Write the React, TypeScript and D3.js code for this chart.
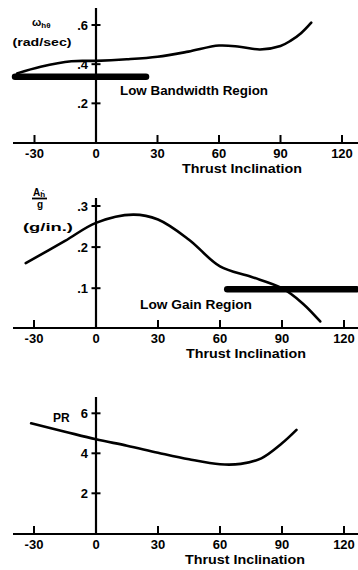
import React from "react";
import * as d3 from "d3";

const xTicks = [-30, 0, 30, 60, 90, 120];

const bwTheta = [-38.5, -27, -12, 0, 15, 30, 45, 60, 70, 80, 90, 95, 100, 105];
const bwValue = [0.353, 0.387, 0.415, 0.417, 0.425, 0.438, 0.464, 0.495, 0.489, 0.475, 0.493, 0.52, 0.558, 0.612];
const bwTicks = [0.2, 0.4, 0.6];
const bwRegion = [-39.5, 24.4];
const bwRegionValue = 0.336;

const gainTheta = [-34, -15, 0, 18, 30, 45, 60, 75, 90, 100, 108.5];
const gainValue = [0.161, 0.215, 0.259, 0.279, 0.267, 0.218, 0.153, 0.128, 0.1, 0.063, 0.019];
const gainTicks = [0.1, 0.2, 0.3];
const gainRegion = [63.5, 126];
const gainRegionValue = 0.0976;

const prTheta = [-31.4, -15, 0, 15, 30, 45, 60, 70, 80, 90, 97];
const prValue = [5.5, 5.08, 4.7, 4.38, 4.03, 3.7, 3.45, 3.47, 3.75, 4.5, 5.17];
const prTicks = [2, 4, 6];

const FONT = "'Liberation Sans', Arial, sans-serif";

type PanelProps = {
  x0: number; x120: number;
  yZero: number; yTopVal: number; yTopPx: number; yMax: number;
  axisY: number; axisTop: number;
  theta: number[]; values: number[];
  ticks: number[]; tickFmt: (v: number) => string;
  region?: number[]; regionValue?: number;
  titleX: number;
  children?: React.ReactNode;
};

function Panel(p: PanelProps) {
  const x = d3.scaleLinear().domain([0, 120]).range([p.x0, p.x120]);
  const y = d3.scaleLinear().domain([0, p.yTopVal]).range([p.yZero, p.yTopPx]);
  const pts = p.theta.map((t, i) => [t, p.values[i]] as [number, number]);
  const line = d3.line<[number, number]>().x(d => x(d[0])).y(d => y(d[1])).curve(d3.curveCatmullRom.alpha(0.5));
  return (
    <g>
      <line x1={13} x2={358} y1={p.axisY} y2={p.axisY} stroke="#000" strokeWidth={2.2} />
      <line x1={x(0)} x2={x(0)} y1={p.axisTop} y2={p.axisY} stroke="#000" strokeWidth={2.2} />
      {xTicks.map(t => (
        <g key={t}>
          <line x1={x(t)} x2={x(t)} y1={p.axisY} y2={p.axisY - 8} stroke="#000" strokeWidth={2} />
          <text x={x(t)} y={p.axisY + 14.5} textAnchor="middle" fontFamily={FONT} fontWeight="bold" fontSize={13}>{t}</text>
        </g>
      ))}
      {p.ticks.map(v => (
        <g key={v}>
          <line x1={x(0) - 4.5} x2={x(0) + 4.5} y1={y(v)} y2={y(v)} stroke="#000" strokeWidth={2} />
          <text x={x(0) - 8} y={y(v)} dy="0.36em" textAnchor="end" fontFamily={FONT} fontWeight="bold" fontSize={13}>{p.tickFmt(v)}</text>
        </g>
      ))}
      <text x={p.titleX} y={p.axisY + 30} textAnchor="middle" fontFamily={FONT} fontWeight="bold" fontSize={13.5} textLength={120} lengthAdjust="spacingAndGlyphs">Thrust Inclination</text>
      {p.region && (
        <line x1={x(p.region[0])} x2={x(p.region[1])} y1={y(p.regionValue!)} y2={y(p.regionValue!)} stroke="#000" strokeWidth={6.5} strokeLinecap="round" />
      )}
      <path d={line(pts) || ""} fill="none" stroke="#000" strokeWidth={2.6} strokeLinecap="round" />
      {p.children}
    </g>
  );
}

export default function App() {
  return (
    <svg width={358} height={570} style={{ position: "absolute", left: 0, top: 0, background: "#fff" }}>
      <rect width={358} height={570} fill="#fff" />
      <Panel x0={96} x120={342} yZero={142.5} yTopVal={0.6} yTopPx={25} yMax={0.6}
        axisY={143} axisTop={8} theta={bwTheta} values={bwValue} ticks={bwTicks}
        tickFmt={v => d3.format(".1f")(v).replace(/^0/, "")} region={bwRegion} regionValue={bwRegionValue} titleX={242}>
        <text x={194} y={95} textAnchor="middle" fontFamily={FONT} fontWeight="bold" fontSize={12} textLength={148} lengthAdjust="spacingAndGlyphs">Low Bandwidth Region</text>
        <text x={32} y={26} fontFamily={FONT} fontWeight="bold" fontSize={11}>ω<tspan fontSize={8} dy={2}>hθ</tspan></text>
        <text x={42} y={46} textAnchor="middle" fontFamily={FONT} fontWeight="bold" fontSize={11} textLength={59} lengthAdjust="spacingAndGlyphs">(rad/sec)</text>
      </Panel>
      <Panel x0={96} x120={344} yZero={329.3} yTopVal={0.3} yTopPx={206} yMax={0.3}
        axisY={328} axisTop={198} theta={gainTheta} values={gainValue} ticks={gainTicks}
        tickFmt={v => d3.format(".1f")(v).replace(/^0/, "")} region={gainRegion} regionValue={gainRegionValue} titleX={246}>
        <text x={196} y={309} textAnchor="middle" fontFamily={FONT} fontWeight="bold" fontSize={12} textLength={112} lengthAdjust="spacingAndGlyphs">Low Gain Region</text>
        <text x={33} y={196} fontFamily={FONT} fontWeight="bold" fontSize={10}>A<tspan fontSize={8} dy={1}>ḣ</tspan></text>
        <line x1={32} x2={47} y1={198.5} y2={198.5} stroke="#000" strokeWidth={1.8} />
        <text x={40} y={208} textAnchor="middle" fontFamily={FONT} fontWeight="bold" fontSize={10}>g</text>
        <text x={48} y={231} textAnchor="middle" fontFamily={FONT} fontWeight="bold" fontSize={11} textLength={50} lengthAdjust="spacingAndGlyphs">(g/in.)</text>
      </Panel>
      <Panel x0={96} x120={344} yZero={533.3} yTopVal={6} yTopPx={413.3} yMax={6}
        axisY={534} axisTop={397} theta={prTheta} values={prValue} ticks={prTicks}
        tickFmt={v => String(v)} titleX={245}>
        <text x={53} y={422} fontFamily={FONT} fontWeight="bold" fontSize={12}>PR</text>
      </Panel>
    </svg>
  );
}
